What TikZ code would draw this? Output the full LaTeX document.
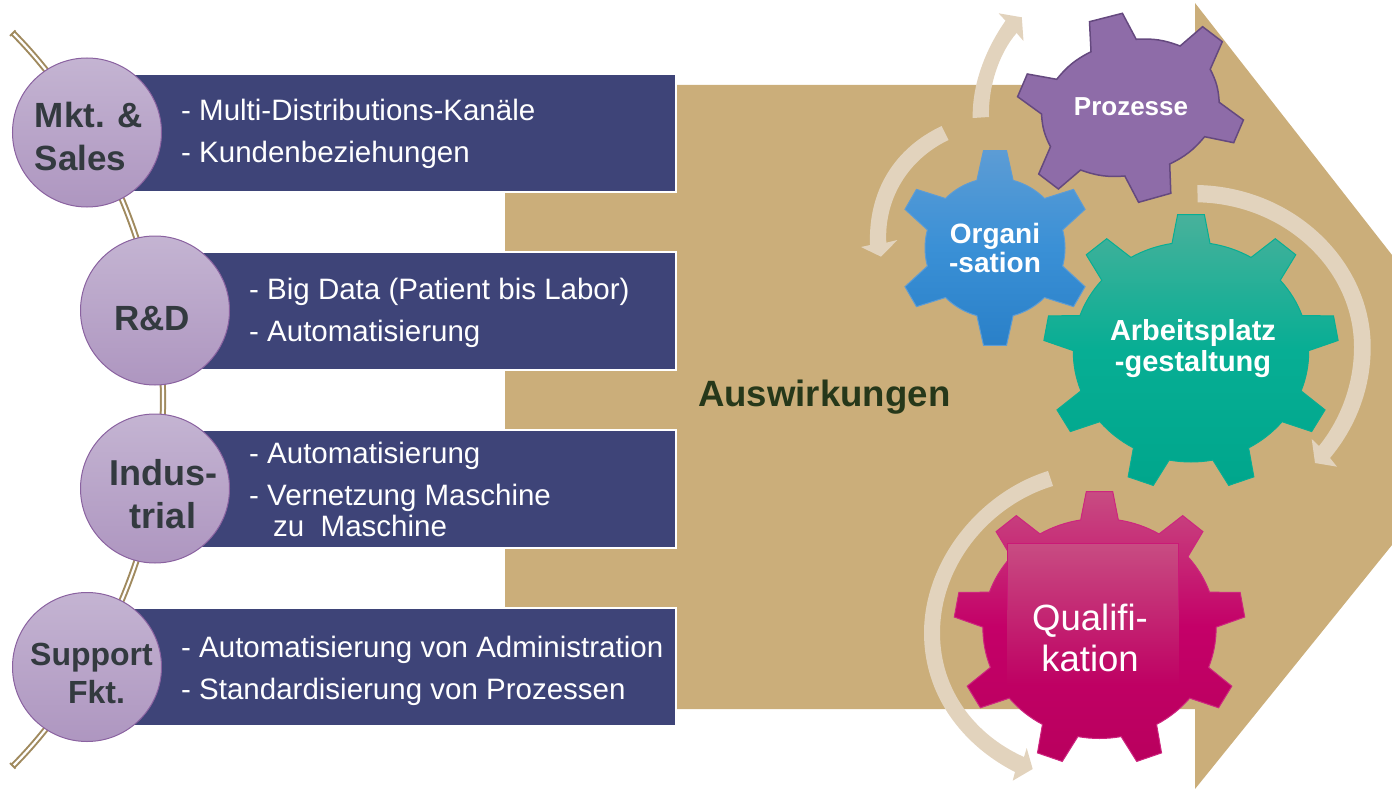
\documentclass[tikz,border=0pt]{standalone}
\usepackage{fontspec}
\setmainfont{Liberation Sans}
\definecolor{tan1}{HTML}{CBAE7A}
\definecolor{navy1}{HTML}{3E4478}
\definecolor{beige1}{HTML}{E2D3BD}
\definecolor{rope}{HTML}{A08A5E}
\definecolor{dark1}{HTML}{333A3F}
\definecolor{green1}{HTML}{26381A}
\definecolor{discedge}{HTML}{8A62A0}
\definecolor{disctop}{HTML}{C4B4D2}
\definecolor{discbot}{HTML}{AE96C0}
\definecolor{bluetop}{HTML}{5C9CD5}
\definecolor{bluemid}{HTML}{3A90D6}
\definecolor{bluebot}{HTML}{2A80C8}
\definecolor{tealtop}{HTML}{48B19B}
\definecolor{tealmid}{HTML}{07AE94}
\definecolor{tealbot}{HTML}{00A68C}
\definecolor{magtop}{HTML}{C84C82}
\definecolor{magmid}{HTML}{C40068}
\definecolor{magbot}{HTML}{B9005E}
\definecolor{purple1}{HTML}{8E6CA8}
\definecolor{purple2}{HTML}{65497F}
\tikzset{
  rowbox/.style={fill=navy1,draw=white,line width=2pt},
  disc/.style={circle,minimum size=149pt,inner sep=0pt,draw=discedge,line width=1pt,top color=disctop,bottom color=discbot},
  disctxt/.style={font=\fontsize{35}{42.5}\selectfont\bfseries,text=dark1,align=center,inner sep=0pt},
  rowtxt/.style={font=\fontsize{29.5}{30}\selectfont,text=white,anchor=base west,inner sep=0pt},
  geartxt/.style={font=\fontsize{26}{30}\selectfont\bfseries,text=white,align=center,inner sep=0pt},
  sweep/.style={fill=beige1,draw=none},
}
% gear: cx cy R tip n firstangle rootHalfAngle tipHalfAngle xstretch
\newcommand{\gearpath}[9]{%
  ({#1+#9*#3*cos(#6+#7)},{#2-#3*sin(#6+#7)})
  \foreach \gi [evaluate=\gi as \ga using #6-(\gi-1)*360/#5] in {1,...,#5}{
    -- ({#1+#9*#4*cos(\ga+#8)},{#2-#4*sin(\ga+#8)})
    -- ({#1+#9*#4*cos(\ga-#8)},{#2-#4*sin(\ga-#8)})
    -- ({#1+#9*#3*cos(\ga-#7)},{#2-#3*sin(\ga-#7)})
    \foreach \gk in {1,...,8}{
      -- ({#1+#9*#3*cos(\ga-#7-\gk/8*(360/#5-2*#7))},{#2-#3*sin(\ga-#7-\gk/8*(360/#5-2*#7))})
    }
  } -- cycle
}
\begin{document}
\begin{tikzpicture}[x=1pt,y=-1pt,line join=miter]
\useasboundingbox (0,0) rectangle (1392,789);
% big arrow
\fill[tan1] (505,85) -- (1195,85) -- (1195,3) -- (1392,255) -- (1392,545) -- (1195,789) -- (1195,709) -- (505,709) -- cycle;
% rope
\coordinate (ropeA) at (13,33);
\coordinate (ropeM) at (163,399.5);
\coordinate (ropeB) at (13,766);
\draw[rope,double=white,double distance=2.2pt,line width=2pt]
  (ropeA) .. controls (85,105) and (163,240) .. (ropeM)
          .. controls (163,559) and (85,694) .. (ropeB);
\draw[rope,line width=2pt] (10,36) -- (15.5,30.5);
\draw[rope,line width=2pt] (10,763) -- (15.5,768.5);
% rows
\path[rowbox] (120,74) rectangle (676,192);
\path[rowbox] (190,251.5) rectangle (676,369.5);
\path[rowbox] (190,430) rectangle (676,548);
\path[rowbox] (120,607.5) rectangle (676,726);
% discs
\node[disc] (c1) at (87,132.5) {};
\node[disc] (c2) at (155,310.5) {};
\node[disc] (c3) at (155,488.5) {};
\node[disc] (c4) at (87,667) {};
\node[disctxt,align=left] (t1) at (89,136.5) {Mkt. \&\\Sales};
\node[disctxt] (t2) at (152,319) {R\&D};
\node[disctxt,font=\fontsize{36}{43}\selectfont\bfseries] (t3) at (163,494.5) {Indus-\\trial};
\node[disctxt,font=\fontsize{32}{38}\selectfont\bfseries] (t4) at (91.5,673) {Support\\\hspace*{10pt}Fkt.};
% row text
\node[rowtxt] (r1a) at (181,121) {- Multi-Distributions-Kanäle};
\node[rowtxt] (r1b) at (181,163) {- Kundenbeziehungen};
\node[rowtxt] (r2a) at (249,299) {- Big Data (Patient bis Labor)};
\node[rowtxt] (r2b) at (249,341) {- Automatisierung};
\node[rowtxt] (r3a) at (249,463) {- Automatisierung};
\node[rowtxt] (r3b) at (249,505) {- Vernetzung Maschine};
\node[rowtxt] (r3c) at (273,536) {zu\ \ Maschine};
\node[rowtxt] (r4a) at (181,657) {- Automatisierung von Administration};
\node[rowtxt] (r4b) at (181,699) {- Standardisierung von Prozessen};
\node[font=\fontsize{36.6}{40}\selectfont\bfseries,text=green1,anchor=base west,inner sep=0pt] (ausw) at (698,406) {Auswirkungen};
% sweeping arrows
\fill[sweep] (972.7,118) .. controls (972,85) and (985,50) .. (1005.5,20.7) -- (998.6,13.3) -- (1021.8,17.3) -- (1023.5,41) -- (1016.6,33) .. controls (1000,52) and (988,85) .. (989,117) -- cycle;
\fill[sweep] (941.6,126) .. controls (895,148) and (868,190) .. (870,245) -- (861,247) -- (881,256.7) -- (897.4,240) -- (886.3,242.7) .. controls (884,200) and (907,160) .. (948.5,140) -- cycle;
\fill[sweep] (1197.3,185) .. controls (1295,187) and (1370.7,262) .. (1370.7,347) .. controls (1370.7,390) and (1355,428) .. (1330,458) -- (1337,466.7) -- (1315,463) -- (1311.7,439) -- (1319,446) .. controls (1340,420) and (1354,385) .. (1354,347) .. controls (1354,270) and (1285,204) .. (1197.7,202.3) -- cycle;
\fill[sweep] (1048,471) .. controls (980,492) and (924,560) .. (924,633) .. controls (924,695) and (962,745) .. (1015,772) -- (1012.7,780.7) -- (1032.7,769) -- (1026.7,748) -- (1024,757) .. controls (975,735) and (940,690) .. (940,633) .. controls (940,565) and (990,505) .. (1053,486) -- cycle;
% gear: Prozesse
\coordinate (p1) at (1136.2,39.3);
\coordinate (p2) at (1180.1,46);
\coordinate (p3) at (1210.2,69.3);
\coordinate (p4) at (1219.2,102.3);
\coordinate (p5) at (1204.6,136.7);
\coordinate (p6) at (1169.7,164);
\coordinate (p7) at (1124.8,176);
\coordinate (p8) at (1080.6,170);
\coordinate (p9) at (1050.5,146.7);
\coordinate (p10) at (1041.5,114);
\coordinate (p11) at (1056.7,79.3);
\coordinate (p12) at (1091,51.7);
\draw[fill=purple1,draw=purple2,line width=1.5pt]
  (p12) -- (1089.5,21.7) -- (1122.4,13.3) -- (p1) to[bend left=12] (p2)
  -- (1202.6,26.7) -- (1222.3,41.7) -- (p3) to[bend left=12] (p4)
  -- (1243.4,120) -- (1233.7,142.7) -- (p5) to[bend left=12] (p6)
  -- (1170.8,193.3) -- (1138.6,202.3) -- (p7) to[bend left=12] (p8)
  -- (1058.4,189) -- (1038.7,174) -- (p9) to[bend left=12] (p10)
  -- (1017.6,96.7) -- (1027.3,74) -- (p11) to[bend left=12] (p12) -- cycle;
% gear: Organisation
\path[draw=bluetop,line width=1pt,top color=bluetop,bottom color=bluebot,middle color=bluemid]
  \gearpath{995}{248}{70}{98}{6}{90}{15}{6.75}{1};
% gear: Arbeitsplatz
\path[draw=tealmid,line width=1pt,top color=tealtop,bottom color=tealbot,middle color=tealmid]
  \gearpath{1191}{352}{110}{138}{9}{90}{9.3}{5.2}{1.07};
% gear: Qualifikation
\path[draw=magmid!85!white,line width=1pt,top color=magtop,bottom color=magbot,middle color=magmid]
  \gearpath{1099.5}{628.5}{110}{137.5}{9}{90}{9.3}{5.2}{1.06};
\path[top color=magtop,middle color=magmid,bottom color=magbot!50!magmid] (1007.5,543.5) rectangle (1178.5,685);
\draw[magmid!90!white,line width=1pt] (1007.5,610) -- (1007.5,543.5) -- (1178.5,543.5) -- (1178.5,610);
% gear text
\node[geartxt] (g1) at (1131,107) {Prozesse};
\node[geartxt,font=\fontsize{28}{29.5}\selectfont\bfseries] (g2) at (995,248) {Organi\\-sation};
\node[geartxt,font=\fontsize{29}{31}\selectfont\bfseries] (g3) at (1193,349) {Arbeitsplatz\\-gestaltung};
\node[font=\fontsize{36.5}{41}\selectfont,text=white,align=center,inner sep=0pt] (g4) at (1090,638) {Qualifi-\\kation};
\end{tikzpicture}
\end{document}
